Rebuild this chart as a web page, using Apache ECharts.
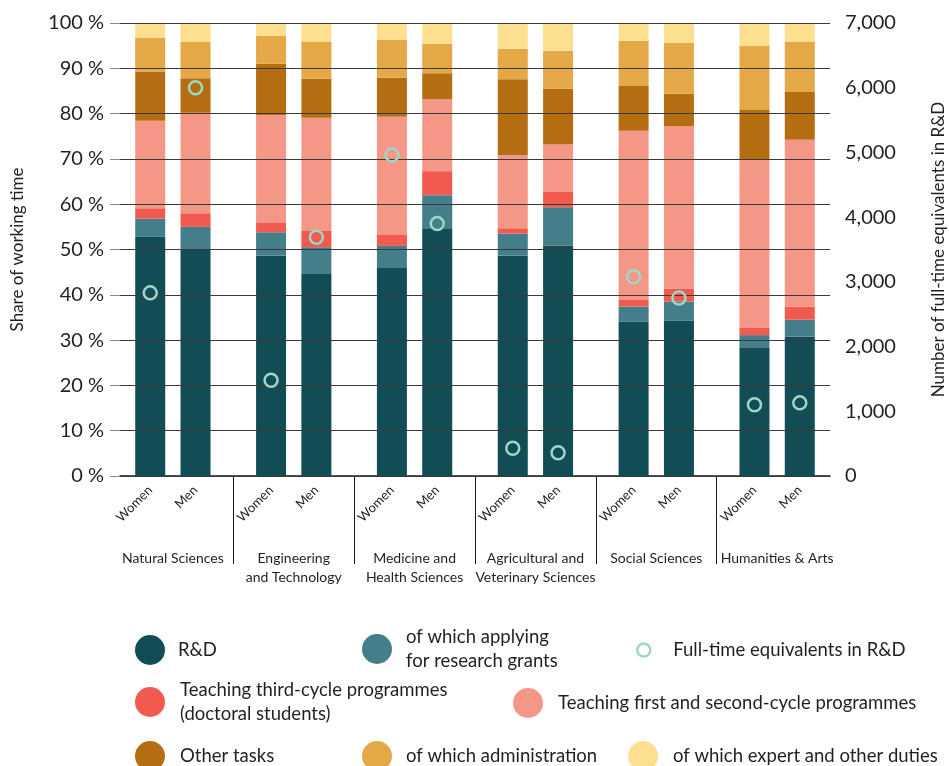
<!DOCTYPE html>
<html>
<head>
<meta charset="utf-8">
<script src="https://cdn.jsdelivr.net/npm/echarts@6/dist/echarts.min.js"></script>
<style>
  html, body { margin: 0; padding: 0; background: #ffffff; }
  #chart { width: 949px; height: 766px; }
</style>
</head>
<body>
<div id="chart"></div>
<script>
// fields and bar labels
const groups = ['Natural Sciences', 'Engineering\nand Technology', 'Medicine and\nHealth Sciences',
  'Agricultural and\nVeterinary Sciences', 'Social Sciences', 'Humanities & Arts']
const genders = ['Women', 'Men']

// share of working time, % (order: NS W, NS M, Eng W, Eng M, Med W, Med M, Agr W, Agr M, Soc W, Soc M, Hum W, Hum M)
const rd        = [52.8, 50.0, 48.7, 44.6, 45.9, 54.7, 48.7, 50.9, 34.1, 34.3, 28.4, 30.8]
const grants    = [4.0, 5.0, 5.1, 5.9, 4.9, 7.3, 4.8, 8.4, 3.3, 4.2, 2.7, 3.7]
const thirdCyc  = [2.3, 3.0, 2.2, 3.6, 2.4, 5.3, 1.2, 3.4, 1.6, 2.9, 1.7, 2.9]
const firstCyc  = [19.3, 22.2, 23.7, 25.0, 26.1, 15.9, 16.1, 10.5, 37.2, 35.8, 36.9, 36.8]
const otherTask = [10.9, 7.6, 11.3, 8.6, 8.6, 5.7, 16.8, 12.3, 9.9, 7.2, 11.1, 10.7]
const admin     = [7.5, 8.1, 6.2, 8.2, 8.4, 6.5, 6.7, 8.4, 10.0, 11.2, 14.1, 11.0]
const expert    = [3.2, 4.1, 2.8, 4.1, 3.7, 4.6, 5.7, 6.1, 3.9, 4.4, 5.1, 4.1]
// full-time equivalents in R&D
const fte       = [2830, 6000, 1480, 3690, 4960, 3900, 430, 360, 3080, 2750, 1100, 1130]

// slots on the category axis: W and M bars, a gap, and a separator between fields
const SLOTS = 95
const barSlot = []   // slot of each of the 12 bars
const centerSlot = []
const sepSlot = []
groups.forEach(function (g, i) {
  barSlot.push(16 * i + 4, 16 * i + 10)
  centerSlot.push(16 * i + 7)
  if (i < groups.length - 1) sepSlot.push(16 * i + 15)
})

const barLabels = new Array(SLOTS).fill('')
const groupLabels = new Array(SLOTS).fill('')
barSlot.forEach(function (s, k) { barLabels[s] = genders[k % 2] })
centerSlot.forEach(function (s, i) { groupLabels[s] = groups[i] })

function spread(values) {
  const out = new Array(SLOTS).fill('-')
  barSlot.forEach(function (s, k) { out[s] = values[k] })
  return out
}

const font = 'Lato'
const txt = '#231f20'

const stacks = [
  ['R&D', rd, '#124c55'],
  ['of which applying\nfor research grants', grants, '#437e8a'],
  ['Teaching third-cycle programmes\n(doctoral students)', thirdCyc, '#f05a4f'],
  ['Teaching first and second-cycle programmes', firstCyc, '#f59786'],
  ['Other tasks', otherTask, '#b56d12'],
  ['of which administration', admin, '#e4a846'],
  ['of which expert and other duties', expert, '#fde08f']
]

const series = stacks.map(function (s) {
  return {
    name: s[0],
    type: 'bar',
    stack: 'time',
    barWidth: 30,
    z: 2,
    itemStyle: { color: s[2] },
    data: spread(s[1])
  }
})
series.push({
  name: 'Full-time equivalents in R&D',
  type: 'scatter',
  yAxisIndex: 1,
  z: 6,
  symbol: 'circle',
  symbolSize: 13,
  itemStyle: { color: 'rgba(0,0,0,0)', borderColor: '#9dd7c6', borderWidth: 2.5, opacity: 1 },
  data: spread(fte)
})

function leg(name, left, top, size, pad, extra) {
  const item = { name: name, icon: 'circle' }
  if (extra) item.itemStyle = extra
  return {
    left: left, top: top,
    padding: 0,
    itemWidth: size, itemHeight: size,
    selectedMode: false,
    data: [item],
    textStyle: { fontFamily: font, fontSize: 18.5, color: txt, lineHeight: 24, padding: [0, 0, 0, pad] }
  }
}

const legends = [
  leg('R&D', 135, 635, 30, 8),
  leg('of which applying\nfor research grants', 362, 625, 30, 9),
  leg('Full-time equivalents in R&D', 636, 638, 13, 18,
    { color: 'rgba(0,0,0,0)', borderColor: '#9dd7c6', borderWidth: 2.5 }),
  leg('Teaching third-cycle programmes\n(doctoral students)', 135, 678, 30, 10),
  leg('Teaching first and second-cycle programmes', 513, 688, 30, 10),
  leg('Other tasks', 135, 741, 30, 10),
  leg('of which administration', 362, 741, 30, 9),
  leg('of which expert and other duties', 628, 741, 30, 10)
]

const chart = echarts.init(document.getElementById('chart'))
chart.setOption({
  backgroundColor: '#ffffff',
  animation: false,
  legend: legends,
  grid: { left: 120, right: 119, top: 23, bottom: 290, containLabel: false, outerBoundsMode: 'none' },
  xAxis: [
    {
      type: 'category',
      data: barLabels,
      boundaryGap: false,
      axisLine: { show: true, lineStyle: { color: '#1a1a1a', width: 1.5 } },
      axisTick: {
        show: true,
        length: 88,
        interval: function (i) { return sepSlot.indexOf(i) >= 0 },
        lineStyle: { color: '#1a1a1a', width: 1 }
      },
      axisLabel: { interval: 0, rotate: 45, margin: 12, fontFamily: font, fontSize: 13, color: txt },
      splitLine: { show: false }
    },
    {
      type: 'category',
      data: groupLabels,
      boundaryGap: false,
      position: 'bottom',
      axisLine: { show: false },
      axisTick: { show: false },
      axisLabel: { interval: 0, margin: 73, fontFamily: font, fontSize: 14, lineHeight: 19, color: txt },
      splitLine: { show: false }
    }
  ],
  yAxis: [
    {
      type: 'value',
      min: 0, max: 100, interval: 10,
      z: 4,
      name: 'Share of working time',
      nameLocation: 'middle',
      nameRotate: 90,
      nameGap: 94,
      nameTextStyle: { fontFamily: font, fontSize: 17, color: txt },
      axisLine: { show: false },
      axisTick: { show: true, length: 10, lineStyle: { color: '#8a8a8a' } },
      axisLabel: { formatter: '{value} %', margin: 16, fontFamily: font, fontSize: 20, color: txt },
      splitLine: { show: true, lineStyle: { color: '#3a3a3a', width: 1 } }
    },
    {
      type: 'value',
      min: 0, max: 7000, interval: 1000,
      position: 'right',
      name: 'Number of full-time equivalents in R&D',
      nameLocation: 'middle',
      nameRotate: 90,
      nameGap: 100,
      nameTextStyle: { fontFamily: font, fontSize: 17, color: txt },
      axisLine: { show: false },
      axisTick: { show: false },
      axisLabel: {
        margin: 15, fontFamily: font, fontSize: 20, color: txt,
        formatter: function (v) { return v.toLocaleString('en-US') }
      },
      splitLine: { show: false }
    }
  ],
  series: series
})
</script>
</body>
</html>
